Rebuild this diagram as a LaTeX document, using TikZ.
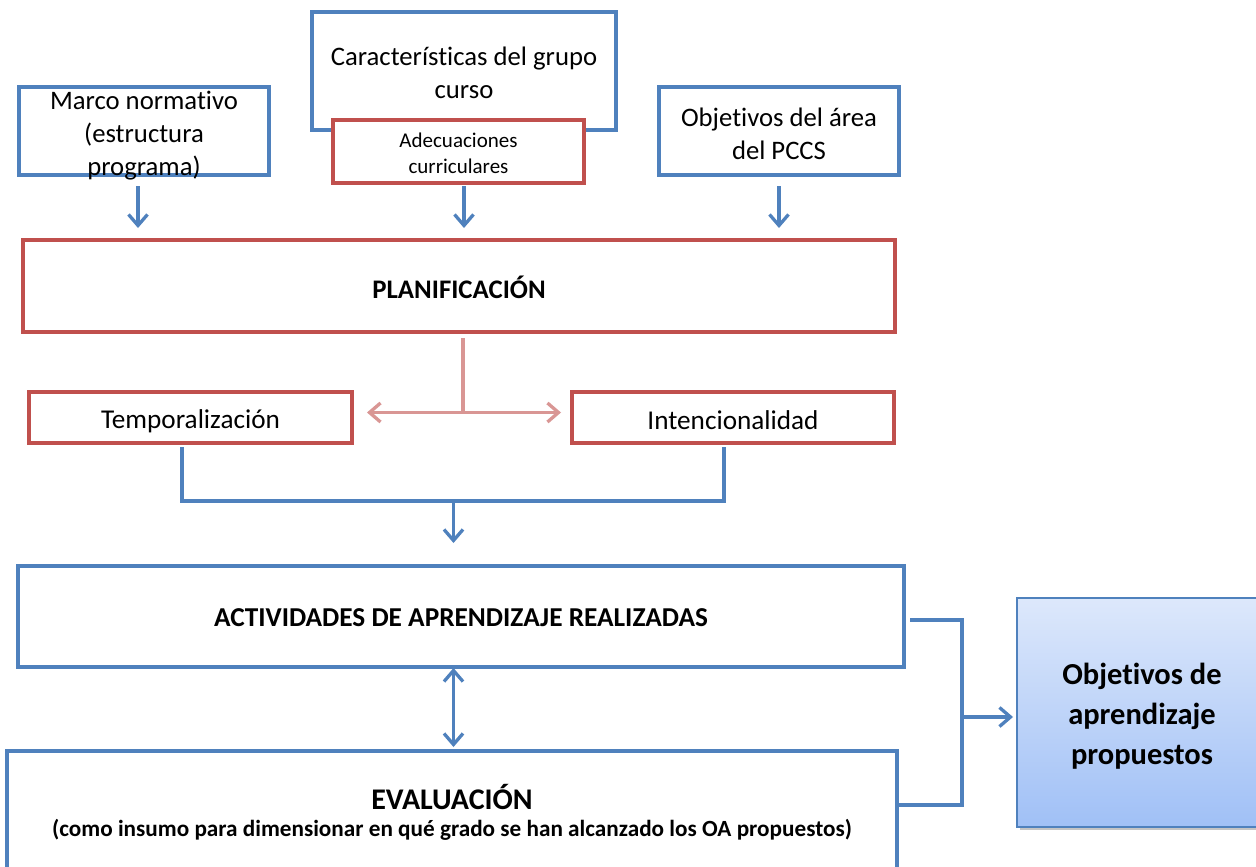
\documentclass[tikz,border=0pt]{standalone}
\usepackage{fontspec}
\setmainfont{Carlito}[Ligatures={NoCommon}]
\usetikzlibrary{arrows.meta,calc,shadows}
\definecolor{bl}{HTML}{4F81BD}
\definecolor{rd}{HTML}{C0504D}
\definecolor{pk}{HTML}{D99694}
\definecolor{gtop}{HTML}{DDE8FB}
\definecolor{gbot}{HTML}{A0C0F6}
\newcommand{\myfs}[2]{\fontsize{#1}{#2}\selectfont}
\begin{document}
\begin{tikzpicture}[x=1pt,y=-1pt,
  bbox/.style={draw=bl,line width=3.3pt,fill=white,inner sep=0pt,outer sep=0pt},
  rbox/.style={draw=rd,line width=3.3pt,fill=white,inner sep=0pt,outer sep=0pt},
  lbl/.style={align=center,inner sep=0pt,text=black},
  lblbig/.style={lbl,font=\myfs{26.7}{33}},
  lblsmall/.style={lbl,font=\myfs{21}{26}},
  lblbold/.style={lbl,font=\bfseries\myfs{26.8}{33}},
  conn/.style={draw=bl,line width=3.3pt},
  arr/.style={conn,-{Straight Barb[length=11pt,width=19pt]}},
  darr/.style={conn,{Straight Barb[length=11pt,width=19pt]}-{Straight Barb[length=11pt,width=19pt]}},
  parr/.style={draw=pk,line width=3.3pt,{Straight Barb[length=11pt,width=19pt]}-{Straight Barb[length=11pt,width=19pt]}}
]
\useasboundingbox (0,0) rectangle (1256,867);
\clip (0,0) rectangle (1256,867);
\fill[white] (0,0) rectangle (1256,867);

% top boxes
\node[bbox,minimum width=250pt,minimum height=88pt] (marco) at (144,131) {};
\node[lblbig] (marcot) at ($(marco.center)+(0,5)$) {Marco normativo\\(estructura\\programa)};
\node[bbox,minimum width=304pt,minimum height=118pt] (caract) at (464,71) {};
\node[lblbig] (caractt) at ($(caract.center)+(0,1.5)$) {Características del grupo\\curso};
\node[rbox,minimum width=251pt,minimum height=63pt] (adec) at (458.5,151.5) {};
\node[lblsmall] (adect) at ($(adec.center)+(0,1.5)$) {Adecuaciones\\curriculares};
\node[bbox,minimum width=240pt,minimum height=88pt] (obj) at (779,131) {};
\node[lblbig] (objt) at ($(obj.center)+(0,3)$) {Objetivos del área\\del PCCS};

% planificacion
\node[rbox,minimum width=872pt,minimum height=92pt] (planif) at (459,286) {};
\node[lblbold] (planift) at ($(planif.center)+(0,1)$) {PLANIFICACIÓN};

% arrows to planificacion
\draw[arr] ($(marco.south)+(-6,11)$) -- ($(marco.south |- planif.north)+(-6,-12)$);
\draw[arr] ($(caract.center |- adec.south)+(0,3)$) -- ($(caract.center |- planif.north)+(0,-12)$);
\draw[arr] ($(obj.south)+(0,11)$) -- ($(obj.south |- planif.north)+(0,-12)$);

% second row
\node[rbox,minimum width=323pt,minimum height=51pt] (temp) at (190.5,417.5) {};
\node[lblbig,font=\myfs{27.2}{33}] (tempt) at ($(temp.center)+(0,4)$) {Temporalización};
\node[rbox,minimum width=322pt,minimum height=51pt] (inten) at (733,417.5) {};
\node[lblbig,font=\myfs{27.2}{33}] (intent) at ($(inten.center)+(0,3)$) {Intencionalidad};

\coordinate (fork) at ($(planif.south |- temp.center)+(4,-5)$);
\draw[draw=pk,line width=3.3pt] ($(planif.south)+(4,6)$) -- (fork);
\draw[parr] ($(temp.east)+(15,-5)$) -- ($(inten.west)+(-11,-5)$);

% actividades
\node[bbox,minimum width=886pt,minimum height=101pt] (act) at (461,616.5) {};
\node[lblbold,font=\bfseries\myfs{27.3}{33}] (actt) at ($(act.center)+(0,1)$) {ACTIVIDADES DE APRENDIZAJE REALIZADAS};

\coordinate (merge) at ($(act.north)+(-7.5,-65)$);
\draw[conn] ($(temp.south)+(-8.5,4)$) |- (merge) -| ($(inten.south)+(-9,4)$);
\draw[arr] (merge) -- ($(act.north)+(-7.5,-23)$);

% evaluacion
\node[bbox,minimum width=890pt,minimum height=160pt] (eval) at (452,831) {};
\node[lbl,font=\bfseries\myfs{30}{36}] (evalt) at ($(eval.north)+(0,46)$) {EVALUACIÓN};
\node[lbl,font=\bfseries\myfs{23.2}{28}] (evals) at ($(eval.north)+(0,79)$) {(como insumo para dimensionar en qué grado se han alcanzado los OA propuestos)};

\draw[darr] ($(act.south)+(-7.5,1)$) -- ($(act.south |- eval.north)+(-7.5,-4)$);

% objetivos de aprendizaje
\node[draw=bl,line width=2pt,inner sep=0pt,minimum width=250pt,minimum height=229pt,
      top color=gtop,bottom color=gbot,
      drop shadow={shadow xshift=2.5pt,shadow yshift=-3pt,fill=black!45,opacity=.5}] (oap) at (1142,712.5) {};
\node[lbl,font=\bfseries\myfs{30.5}{40}] (oapt) at ($(oap.center)+(0,3.5)$) {Objetivos de\\aprendizaje\\propuestos};

\coordinate (jt) at ($(act.east)+(58,3.5)$);
\coordinate (jb) at (jt |- {$(eval.east)+(0,-26)$});
\draw[conn] ($(act.east)+(6,3.5)$) -- (jt) -- (jb) -- (jb -| eval.east);
\coordinate (jm) at (jt |- {$(oap.west)+(0,4.5)$});
\draw[arr] (jm) -- ($(oap.west)+(-3,4.5)$);
\end{tikzpicture}
\end{document}
